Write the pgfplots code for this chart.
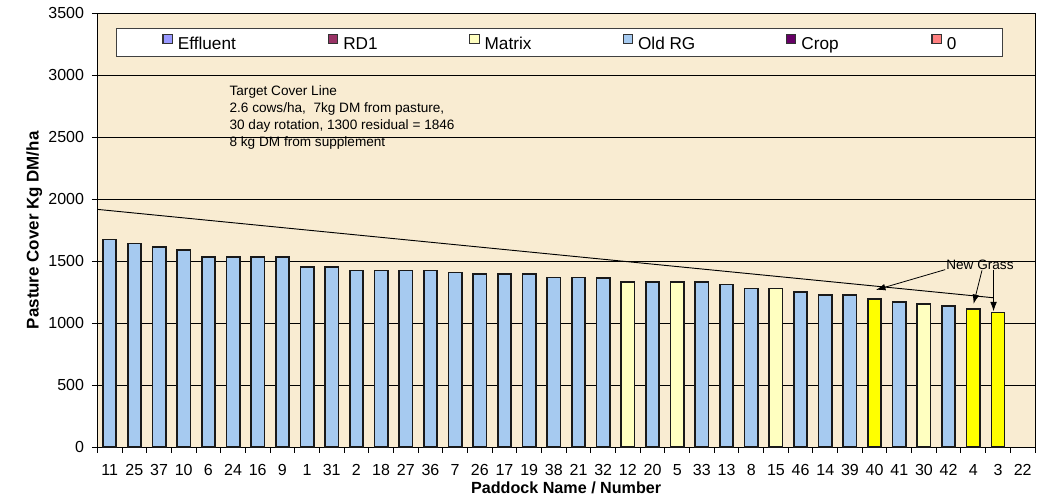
\documentclass[border=0pt]{standalone}
\usepackage{pgfplots}
\pgfplotsset{compat=1.18}
\usepackage{fontspec}
\setmainfont{Liberation Sans}
\usetikzlibrary{arrows.meta}
\definecolor{oldrg}{RGB}{166,202,240}
\definecolor{matrixc}{RGB}{255,255,192}
\definecolor{newgrass}{RGB}{255,255,0}
\definecolor{effluent}{RGB}{153,153,255}
\definecolor{rdone}{RGB}{153,51,102}
\definecolor{cropc}{RGB}{102,0,102}
\definecolor{zeroc}{RGB}{255,128,128}
\definecolor{parch}{RGB}{249,236,210}
\definecolor{edge}{RGB}{25,25,25}
\begin{document}
\begin{tikzpicture}
\begin{axis}[
  scale only axis, width=703.3pt, height=325.5pt,
  xmin=-0.5, xmax=37.5, ymin=0, ymax=3500,
  ytick={0,500,...,3500},
  xtick={0,...,37},
  xticklabels={11,25,37,10,6,24,16,9,1,31,2,18,27,36,7,26,17,19,38,21,32,12,20,5,33,13,8,15,46,14,39,40,41,30,42,4,3,22},
  minor xtick={-0.5,0.5,...,37.5},
  major x tick style={draw=none},
  tick align=outside, tick pos=left,
  major tick length=4pt, minor tick length=4pt,
  ymajorgrids, major grid style={black, line width=0.6pt},
  axis line style={black, line width=0.75pt},
  tick style={black, line width=0.75pt},
  axis background/.style={fill=parch},
  ticklabel style={font=\fontsize{12}{14}\selectfont},
  xticklabel style={yshift=-5.5pt},
  yticklabel style={xshift=-2.5pt},
  /pgf/number format/assume math mode=true,
  /pgf/number format/1000 sep={},
  xlabel={Paddock Name / Number}, ylabel={Pasture Cover Kg DM/ha},
  xlabel style={font=\bfseries\fontsize{12.1}{14}\selectfont, at={(axis description cs:0.5,-0.0931)}, anchor=center},
  ylabel style={font=\bfseries\fontsize{12.7}{14}\selectfont, at={(axis description cs:-0.0672,0.5)}, anchor=center},
  legend columns=6,
  legend cell align=left,
  legend image code/.code={\draw[#1, line width=0.8pt] (0pt,0.6pt) rectangle (7pt,7.6pt);},
  legend style={at={(rel axis cs:0.0199,0.9654)}, anchor=north west, draw=black!75, line width=0.75pt, fill=white,
    inner xsep=34.5pt, inner ysep=3.7pt, column sep=0pt, font=\fontsize{12.9}{15}\selectfont,
    nodes={inner sep=0pt}, /tikz/every odd column/.append style={column sep=3.75pt}},
]
% Old RG
\addplot[ybar, bar width=0.54, fill=oldrg, draw=edge, line width=1.25pt, forget plot] coordinates {
 (0,1675) (1,1645) (2,1615) (3,1590) (4,1535) (5,1535) (6,1535) (7,1535)
 (8,1452) (9,1452) (10,1425) (11,1425) (12,1425) (13,1425) (14,1410) (15,1398)
 (16,1398) (17,1398) (18,1370) (19,1370) (20,1368) (22,1335) (24,1335) (25,1312)
 (26,1280) (28,1253) (29,1228) (30,1228) (32,1170) (34,1142)};
% Matrix
\addplot[ybar, bar width=0.54, fill=matrixc, draw=edge, line width=1.25pt, forget plot] coordinates {
 (21,1335) (23,1335) (27,1280) (33,1157)};
% New grass
\addplot[ybar, bar width=0.54, fill=newgrass, draw=edge, line width=1.25pt, forget plot] coordinates {
 (31,1196) (35,1115) (36,1088)};
% Target cover line
\addplot[black, line width=0.7pt, mark=none, forget plot] coordinates {(-0.5,1919) (35.82,1206)};

\draw[-{Latex[length=7pt,width=5pt]}, line width=0.6pt] (axis cs:33.86,1433) -- (axis cs:31.06,1270);
\draw[-{Latex[length=7pt,width=5pt]}, line width=0.6pt] (axis cs:35.35,1427) -- (axis cs:35.01,1157);
\draw[-{Latex[length=7pt,width=5pt]}, line width=0.6pt] (axis cs:35.82,1433) -- (axis cs:35.82,1097);
\node[font=\fontsize{10.2}{12}\selectfont, inner sep=0pt] at (axis cs:35.27,1473) {New Grass};
\node[anchor=north west, align=left, inner sep=0pt, font=\fontsize{10.2}{12.75}\selectfont] at (axis cs:4.85,2922)
 {Target Cover Line\\2.6 cows/ha,\ \ 7kg DM from pasture,\\30 day rotation, 1300 residual = 1846\\8 kg DM from supplement};

\addlegendimage{fill=effluent, draw=black!80}\addlegendentry{\makebox[112.5pt][l]{Effluent}}
\addlegendimage{fill=rdone, draw=black!80}\addlegendentry{\makebox[94.5pt][l]{RD1}}
\addlegendimage{fill=matrixc, draw=black!80}\addlegendentry{\makebox[103.5pt][l]{Matrix}}
\addlegendimage{fill=oldrg, draw=black!80}\addlegendentry{\makebox[111pt][l]{Old RG}}
\addlegendimage{fill=cropc, draw=black!80}\addlegendentry{\makebox[97.5pt][l]{Crop}}
\addlegendimage{fill=zeroc, draw=black!80}\addlegendentry{0}
\end{axis}
\pgfresetboundingbox
\path[use as bounding box] ([xshift=-73pt,yshift=-36.5pt]current axis.south west) rectangle ([xshift=6.75pt,yshift=10pt]current axis.north east);
\end{tikzpicture}
\end{document}
